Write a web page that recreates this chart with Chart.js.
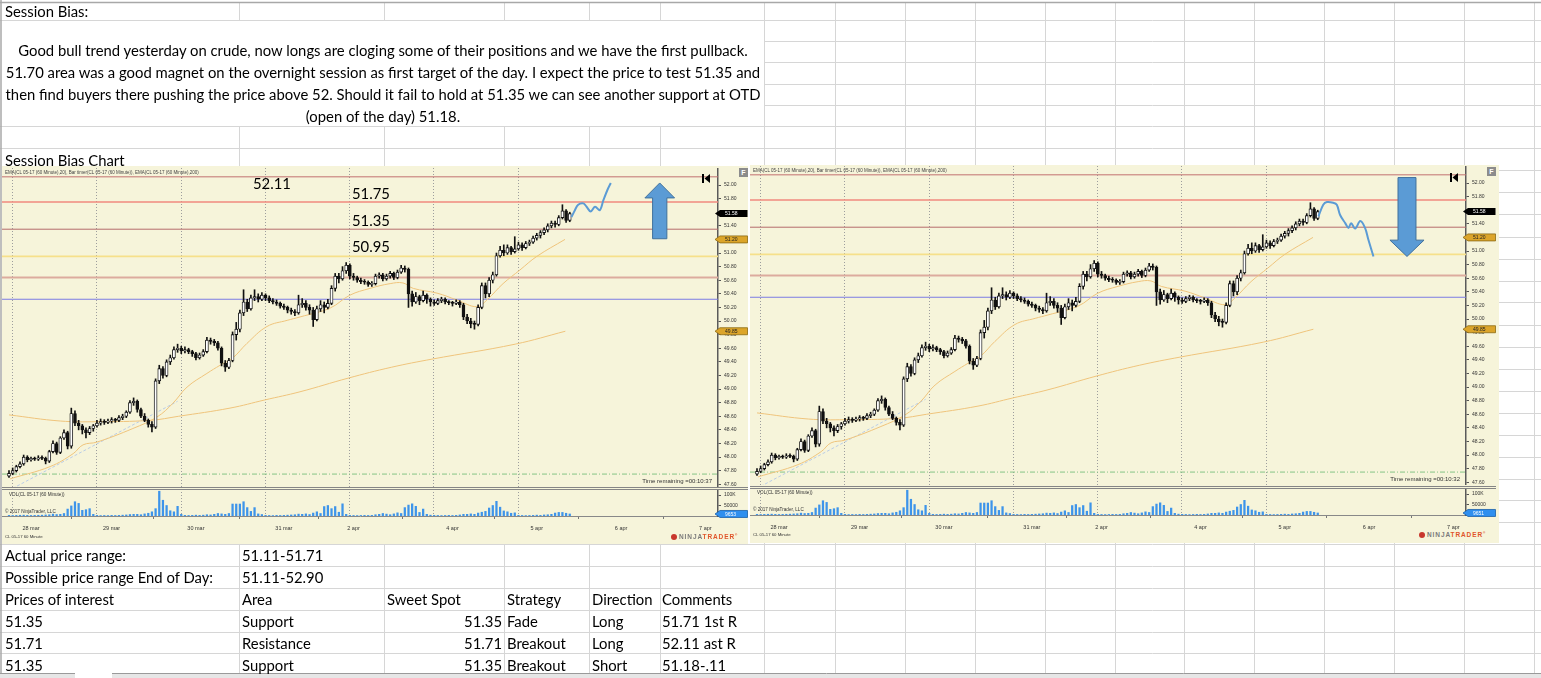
<!DOCTYPE html>
<html>
<head>
<meta charset="utf-8">
<title>Session Bias</title>
<script src="https://cdn.jsdelivr.net/npm/chart.js@4.4.1/dist/chart.umd.min.js"></script>
<style>
  body { margin:0; width:1541px; height:678px; overflow:hidden; position:relative; background:#fff; }
  canvas, div, svg { position:absolute; }
  .cell { white-space:nowrap; font-family:Lato, "Open Sans", sans-serif; color:#000; line-height:1; }
  .nt { white-space:nowrap; font-family:"Liberation Sans", Arial, sans-serif; color:#333; line-height:1; }
  .panel { background:#f6f4da; }
</style>
</head>
<body>
<canvas id="sheet" width="1541" height="678" style="left:0;top:0"></canvas>
<div class="panel" style="left:2px;top:166px;width:746px;height:378px"></div>
<div class="panel" style="left:750px;top:165px;width:749px;height:378px"></div>
<canvas id="priceL" width="746" height="319" style="left:2px;top:168px"></canvas>
<canvas id="volL" width="746" height="43" style="left:2px;top:489px"></canvas>
<canvas id="priceR" width="746" height="319" style="left:750px;top:166px"></canvas>
<canvas id="volR" width="746" height="43" style="left:750px;top:488px"></canvas>
<script>
// ---- CL 05-17, 60 minute bars ----
const opens = [
  47.72,47.76,47.80,47.86,47.90,48.00,47.96,47.98,47.97,47.99,47.98,47.94,48.08,48.20,48.07,48.28,48.36,48.16,48.64,48.50,48.46,48.40,48.36,48.42,
  48.46,48.50,48.52,48.51,48.53,48.55,48.54,48.58,48.60,48.66,48.80,48.82,48.70,48.60,48.54,48.48,48.44,49.12,49.30,49.20,49.40,49.46,49.58,
  49.60,49.56,49.58,49.55,49.52,49.46,49.50,49.55,49.72,49.70,49.68,49.60,49.38,49.32,49.42,49.80,49.88,50.12,50.28,50.18,50.34,50.36,50.32,
  50.38,50.34,50.30,50.28,50.26,50.22,50.20,50.16,50.14,50.12,50.24,50.26,50.20,50.16,50.02,50.18,50.24,50.20,50.26,50.48,50.66,50.62,50.74,
  50.82,50.66,50.64,50.60,50.58,50.57,50.54,50.55,50.66,50.68,50.62,50.66,50.70,50.64,50.72,50.78,50.76,50.40,50.28,50.36,50.30,50.38,50.32,
  50.28,50.26,50.30,50.32,50.28,50.27,50.26,50.28,50.24,50.06,50.00,49.96,49.95,50.20,50.52,50.40,50.60,50.68,50.96,51.04,51.00,51.08,51.02,
  51.06,51.12,51.08,51.14,51.16,51.22,51.26,51.30,51.34,51.40,51.44,51.42,51.52,51.62,51.48
];
const highs = [
  47.80,47.84,47.88,47.93,48.03,48.02,48.00,48.00,48.02,48.02,48.00,48.10,48.24,48.22,48.30,48.40,48.38,48.72,48.68,48.54,48.48,48.43,48.45,48.48,
  48.54,48.56,48.55,48.56,48.58,48.57,48.61,48.63,48.68,48.83,48.87,48.84,48.72,48.64,48.56,48.52,49.15,49.35,49.33,49.43,49.50,49.62,49.66,
  49.63,49.62,49.60,49.57,49.54,49.53,49.58,49.76,49.75,49.73,49.70,49.62,49.42,49.45,49.84,49.98,50.16,50.46,50.32,50.38,50.46,50.40,50.42,
  50.40,50.37,50.33,50.31,50.28,50.25,50.22,50.19,50.17,50.38,50.33,50.30,50.24,50.20,50.22,50.30,50.28,50.32,50.52,50.70,50.70,50.80,50.86,
  50.84,50.70,50.66,50.63,50.61,50.59,50.58,50.69,50.71,50.70,50.69,50.73,50.72,50.75,50.82,50.81,50.78,50.44,50.42,50.38,50.44,50.40,50.34,
  50.31,50.33,50.35,50.34,50.30,50.29,50.31,50.30,50.26,50.10,50.04,50.00,50.24,50.56,50.56,50.64,50.72,51.00,51.10,51.12,51.12,51.10,51.24,
  51.16,51.15,51.17,51.19,51.25,51.29,51.33,51.37,51.43,51.47,51.47,51.55,51.71,51.64,51.60
];
const lows = [
  47.70,47.74,47.78,47.84,47.88,47.93,47.94,47.95,47.95,47.96,47.90,47.92,48.06,48.04,48.05,48.26,48.12,48.13,48.46,48.40,48.34,48.28,48.33,48.38,
  48.44,48.47,48.48,48.49,48.50,48.51,48.52,48.55,48.58,48.64,48.76,48.66,48.58,48.52,48.44,48.37,48.42,49.08,49.16,49.18,49.36,49.44,49.54,
  49.52,49.53,49.52,49.48,49.43,49.44,49.48,49.53,49.66,49.64,49.57,49.34,49.26,49.30,49.40,49.72,49.84,50.08,50.14,50.16,50.30,50.28,50.30,
  50.30,50.27,50.25,50.23,50.19,50.17,50.12,50.10,50.08,50.10,50.20,50.16,50.10,49.92,50.00,50.14,50.12,50.18,50.24,50.44,50.56,50.60,50.70,
  50.62,50.60,50.57,50.55,50.54,50.51,50.51,50.53,50.63,50.59,50.60,50.63,50.61,50.62,50.70,50.72,50.20,50.22,50.26,50.24,50.28,50.26,50.22,
  50.23,50.24,50.27,50.25,50.24,50.22,50.24,50.20,50.02,49.96,49.90,49.88,49.93,50.18,50.34,50.36,50.56,50.66,50.94,50.96,50.98,50.98,51.00,
  51.04,51.04,51.06,51.11,51.14,51.19,51.22,51.27,51.31,51.37,51.38,51.40,51.50,51.45,51.46
];
const closes = [
  47.76,47.80,47.86,47.90,48.00,47.96,47.98,47.97,47.99,47.98,47.94,48.08,48.20,48.07,48.28,48.36,48.16,48.64,48.50,48.46,48.40,48.36,48.42,48.46,
  48.50,48.52,48.51,48.53,48.55,48.54,48.58,48.60,48.66,48.80,48.82,48.70,48.60,48.54,48.48,48.44,49.12,49.30,49.20,49.40,49.46,49.58,49.60,
  49.56,49.58,49.55,49.52,49.46,49.50,49.55,49.72,49.70,49.68,49.60,49.38,49.32,49.42,49.80,49.88,50.12,50.28,50.18,50.34,50.36,50.32,50.38,
  50.34,50.30,50.28,50.26,50.22,50.20,50.16,50.14,50.12,50.24,50.26,50.20,50.16,50.02,50.18,50.24,50.20,50.26,50.48,50.66,50.62,50.74,50.82,
  50.66,50.64,50.60,50.58,50.57,50.54,50.55,50.66,50.68,50.62,50.66,50.70,50.64,50.72,50.78,50.76,50.40,50.28,50.36,50.30,50.38,50.32,50.28,
  50.26,50.30,50.32,50.28,50.27,50.26,50.28,50.24,50.06,50.00,49.96,49.95,50.20,50.52,50.40,50.60,50.68,50.96,51.04,51.00,51.08,51.02,51.06,
  51.12,51.08,51.14,51.16,51.22,51.26,51.30,51.34,51.40,51.44,51.42,51.52,51.62,51.48,51.58
];
const volumes = [
  3000,2500,3000,3500,4000,3000,2500,3000,3500,4000,5000,6000,9000,7000,8000,12000,33000,48000,68000,60000,27000,30000,35000,8000,
  3000,2000,2500,2000,3000,2500,3000,4000,5000,7000,8000,8000,6000,10000,13000,20000,35000,118000,75000,50000,25000,20000,46000,
  8000,3000,2500,3000,4000,3000,4000,6000,5000,8000,12000,10000,8000,12000,57000,57000,57000,68000,40000,22000,40000,10000,7000,
  3000,2500,2000,3000,2500,3000,4000,5000,6000,9000,8000,10000,7000,14000,20000,12000,45000,50000,35000,45000,18000,58000,8000,
  3000,2500,2000,2500,3000,2500,3000,6000,8000,12000,9000,6000,10000,15000,12000,40000,52000,58000,46000,17000,33000,8000,4000,
  3000,2500,2000,2500,3000,2500,3000,5000,8000,8000,10000,8000,14000,18000,22000,38000,50000,70000,42000,24000,20000,13000,15000,
  3000,2500,2000,2500,3000,4000,3000,5000,6000,8000,14000,17000,17000,13000,9653
];
// indicator curves as [bar, price]
const ema20 = [[0.3,47.68],[11.2,47.86],[17.5,48.05],[20.2,48.18],[24,48.22],[33.8,48.42],[40.4,48.59],[44.7,48.79],[48.6,49.03],
  [54,49.23],[57.6,49.35],[61.1,49.46],[64.9,49.67],[70.4,49.92],[75.9,50.01],[79.4,50.06],[87.6,50.19],[93,50.38],[98.5,50.48],
  [104,50.55],[107.5,50.56],[110.3,50.48],[116.8,50.41],[122.2,50.31],[127.7,50.21],[130.4,50.31],[134.8,50.55],[139.4,50.75],
  [144,50.95],[151.7,51.20]];
const ema200 = [[0,48.62],[14,48.53],[24,48.52],[38.5,48.54],[46.3,48.60],[60.3,48.72],[69.8,48.84],[79.4,48.96],[92.5,49.16],
  [104.3,49.32],[115.4,49.44],[138.1,49.66],[151.8,49.85]];
const channel = [[1,47.54],[46,48.82]];
// hand drawn projections
const projUp = [[153.5,51.53],[154.4,51.63],[155.3,51.71],[156.7,51.73],[157.6,51.68],[158.7,51.61],[159.9,51.68],
  [161.2,51.63],[162.2,51.78],[163.3,51.93],[164.2,52.03]];
const projDown = [[153.2,51.51],[154.5,51.68],[155.5,51.72],[157.2,51.71],[158.2,51.68],[159.1,51.53],[160.5,51.41],
  [161.4,51.34],[162.1,51.41],[163.2,51.33],[164.6,51.44],[165.9,51.34],[166.8,51.17],[168.2,50.92]];
const arrowUp = {x0:173.5, x1:181.6, s0:175.6, s1:179.5, tail:51.21, base:51.81, tip:52.03};
const arrowDown = {x0:172.7, x1:182.0, s0:174.9, s1:179.8, tail:52.08, base:51.16, tip:50.92};

const levelPrices = [52.12, 51.75, 51.35, 50.95, 50.64, 50.32, 47.75];
const levelStyles = [
  {color:'#c27070', width:1},
  {color:'#f08a7e', width:1.6},
  {color:'#b66c6c', width:1},
  {color:'#f6e08a', width:1.8},
  {color:'#dcab9e', width:2},
  {color:'#7b7be3', width:1.2},
  {color:'#86c486', width:1, dash:[5,2,1,2]}
];
const priceTicks = [47.6,47.8,48.0,48.2,48.4,48.6,48.8,49.0,49.2,49.4,49.6,49.8,50.0,50.2,50.4,50.6,50.8,51.0,51.2,51.4,51.6,51.8,52.0];
const volTicks = [50000, 100000];
const sessionOpens = [1, 24, 47, 70, 93, 116, 139];
const dayTickIdx = [6, 28, 51, 75, 94, 121, 144, 167, 190];
const dayLabels = ['28 mar','29 mar','30 mar','31 mar','2 apr','4 apr','5 apr','6 apr','7 apr'];

// ---- sheet text ----
const bodyLines = [
  'Good bull trend yesterday on crude, now longs are cloging some of their positions and we have the first pullback.',
  '51.70 area was a good magnet on the overnight session as first target of the day. I expect the price to test 51.35 and',
  'then find buyers there pushing the price above 52. Should it fail to hold at 51.35 we can see another support at OTD',
  '(open of the day) 51.18.'
];
const rangeRows = [['Actual price range:', '51.11-51.71'], ['Possible price range End of Day:', '51.11-52.90']];
const interestHead = ['Prices of interest', 'Area', 'Sweet Spot', 'Strategy', 'Direction', 'Comments'];
const interestRows = [
  ['51.35', 'Support', '51.35', 'Fade', 'Long', '51.71 1st R'],
  ['51.71', 'Resistance', '51.71', 'Breakout', 'Long', '52.11 ast R'],
  ['51.35', 'Support', '51.35', 'Breakout', 'Short', '51.18-.11']
];
const chartNotes = ['52.11', '51.75', '51.35', '50.95'];

// ---- spreadsheet grid ----
const g = document.getElementById('sheet').getContext('2d');
const cols = [239, 384, 504, 589, 660, 764, 835, 905, 975, 1045, 1115, 1184, 1254, 1324, 1394, 1464, 1534];
const rowsLeft = [20, 126, 148, 544, 566, 588, 610, 632, 653];
const rowsRight = [20, 41, 62, 84, 105, 126, 148, 170, 192, 214, 237, 259, 281, 302, 325, 347, 369, 391, 413, 435,
  457, 479, 500, 522, 544, 566, 588, 610, 632, 653];
g.strokeStyle = '#d6d6d6'; g.lineWidth = 1;
function seg(x0, y0, x1, y1) { g.beginPath(); g.moveTo(x0, y0); g.lineTo(x1, y1); g.stroke(); }
cols.forEach(x => {
  if (x < 764) { seg(x + .5, 3, x + .5, 20); seg(x + .5, 126, x + .5, 673); }
  else seg(x + .5, 3, x + .5, 673);
});
rowsLeft.forEach(y => seg(0, y + .5, 764, y + .5));
rowsRight.forEach(y => seg(764, y + .5, 1541, y + .5));
g.strokeStyle = '#a8a8a8'; g.lineWidth = 1.5;
seg(0, 2.5, 1541, 2.5); seg(1, 0, 1, 673);
g.fillStyle = '#e6e6e6'; g.fillRect(0, 674, 75, 4); g.fillRect(112, 674, 1429, 4);
g.strokeStyle = '#9a9a9a'; g.lineWidth = 1; seg(0, 673.5, 75, 673.5); seg(112, 673.5, 1541, 673.5);

// ---- text helpers ----
const mc = document.createElement('canvas').getContext('2d');
mc.font = '100px Lato';
const FS = 100 * 732 / mc.measureText(bodyLines[0]).width;
function put(cls, text, x, cy, size, align, extra) {
  const d = document.createElement('div');
  d.className = cls; d.textContent = text;
  d.style.fontSize = size + 'px';
  d.style.top = (cy - size * (cls === 'cell' ? 0.5 : 0.52)) + 'px';
  if (align === 'center') { d.style.left = (x - 500) + 'px'; d.style.width = '1000px'; d.style.textAlign = 'center'; }
  else if (align === 'right') { d.style.left = (x - 300) + 'px'; d.style.width = '300px'; d.style.textAlign = 'right'; }
  else d.style.left = x + 'px';
  if (extra) Object.assign(d.style, extra);
  document.body.appendChild(d);
  return d;
}
put('cell', 'Session Bias:', 5, 11, FS);
bodyLines.forEach((t, k) => put('cell', t, 383, 50 + 22 * k, FS, 'center'));
put('cell', 'Session Bias Chart', 5, 160, FS);
const colX = [5, 242, 387, 507, 592, 662];
rangeRows.forEach((r, k) => { put('cell', r[0], colX[0], 555 + 22 * k, FS); put('cell', r[1], colX[1], 555 + 22 * k, FS); });
interestHead.forEach((t, c) => put('cell', t, colX[c], 599, FS));
interestRows.forEach((r, k) => r.forEach((t, c) => {
  if (c === 2) put('cell', t, 502, 621 + 22 * k, FS, 'right');
  else put('cell', t, colX[c], 621 + 22 * k, FS);
}));
// notes typed on the left chart
put('cell', chartNotes[0], 253, 183, FS);
put('cell', chartNotes[1], 352, 193, FS);
put('cell', chartNotes[2], 352, 220, FS);
put('cell', chartNotes[3], 352, 246, FS);

// NinjaTrader chrome for both panels
function chrome(ox, oy, timer) {
  put('nt', 'EMA(CL 05-17 (60 Minute),20), Bar timer(CL 05-17 (60 Minute)), EMA(CL 05-17 (60 Minute),200)', ox + 5, oy + 173, 4.5, null, {color:'#444'});
  put('nt', 'Time remaining =' + timer, ox + 712, oy + 481, 6, 'right');
  put('nt', 'VOL(CL 05-17 (60 Minute))', ox + 9, oy + 495, 4.6);
  put('nt', '\u00a9 2017 NinjaTrader, LLC', ox + 5, oy + 512, 4.6);
  put('nt', 'CL 05-17 60 Minute', ox + 5, oy + 537, 4.3);
  const logo = put('nt', '', ox + 679, oy + 537, 6.5, null, {letterSpacing:'0.9px', fontWeight:'bold'});
  logo.innerHTML = '<span style="color:#7a7a7a">NINJA</span><span style="color:#e0552a">TRADER</span><span style="font-size:3px;vertical-align:top;color:#e0552a">\u00ae</span>';
  const dot = document.createElement('div');
  Object.assign(dot.style, {left:(ox + 671) + 'px', top:(oy + 533.5) + 'px', width:'6px', height:'6px', borderRadius:'50%', background:'#c8372d'});
  document.body.appendChild(dot);
  // separator between price and volume panels
  [487, 489].forEach(y => {
    const l = document.createElement('div');
    Object.assign(l.style, {left:(ox + 2) + 'px', top:(oy + y) + 'px', width:'746px', height:'1px', background:'#858585'});
    document.body.appendChild(l);
  });
  const f = document.createElement('div');
  Object.assign(f.style, {left:(ox + 739) + 'px', top:(oy + 168) + 'px', width:'9px', height:'9px', background:'#8c8c8c',
    color:'#fff', font:'bold 7px "Liberation Sans", Arial', textAlign:'center', lineHeight:'9px'});
  f.textContent = 'F';
  document.body.appendChild(f);
  const ic = document.createElementNS('http://www.w3.org/2000/svg', 'svg');
  ic.setAttribute('width', '9'); ic.setAttribute('height', '9');
  ic.style.left = (ox + 702) + 'px'; ic.style.top = (oy + 174) + 'px';
  ic.innerHTML = '<rect x="0" y="0" width="2" height="9" fill="#000"/><polygon points="8,0 2.5,4.5 8,9" fill="#000"/>';
  document.body.appendChild(ic);
}
chrome(0, 0, '00:10:37');
chrome(748, -1.5, '00:10:32');

// ---- Chart.js ----
Chart.defaults.font.family = '"Liberation Sans", Arial, sans-serif';
Chart.defaults.color = '#333';
const X_MIN = -1.91, X_MAX = 193.45;
const P_MIN = 47.56, P_MAX = 52.25;
const V_MAX = 128600;
const barIdx = closes.map((c, i) => i);
const pts = a => a.map(([x, y]) => ({x, y}));

const sessionGrid = {
  id: 'sessionGrid',
  beforeDatasetsDraw(chart) {
    const {ctx, chartArea: a, scales: {x}} = chart;
    ctx.save();
    ctx.strokeStyle = '#9d9d9d'; ctx.lineWidth = 1; ctx.setLineDash([1, 2]);
    sessionOpens.forEach(i => {
      const px = Math.round(x.getPixelForValue(i - 0.2)) + 0.5;
      ctx.beginPath(); ctx.moveTo(px, a.top); ctx.lineTo(px, a.bottom); ctx.stroke();
    });
    ctx.restore();
  }
};
const levelLines = {
  id: 'levelLines',
  beforeDatasetsDraw(chart) {
    const {ctx, chartArea: a, scales: {y}} = chart;
    ctx.save();
    levelPrices.forEach((p, k) => {
      const st = levelStyles[k];
      const py = y.getPixelForValue(p);
      ctx.strokeStyle = st.color; ctx.lineWidth = st.width; ctx.setLineDash(st.dash || []);
      ctx.beginPath(); ctx.moveTo(a.left, py); ctx.lineTo(a.right, py); ctx.stroke();
    });
    ctx.restore();
  }
};
function arrowPlugin(ar) {
  return { id: 'arrow', afterDatasetsDraw(chart) {
    const {ctx, scales: {x, y}} = chart;
    const X0 = x.getPixelForValue(ar.x0), X1 = x.getPixelForValue(ar.x1);
    const S0 = x.getPixelForValue(ar.s0), S1 = x.getPixelForValue(ar.s1);
    const T = y.getPixelForValue(ar.tail), B = y.getPixelForValue(ar.base), P = y.getPixelForValue(ar.tip);
    ctx.save();
    ctx.beginPath();
    ctx.moveTo(S0, T); ctx.lineTo(S0, B); ctx.lineTo(X0, B); ctx.lineTo((X0 + X1) / 2, P);
    ctx.lineTo(X1, B); ctx.lineTo(S1, B); ctx.lineTo(S1, T); ctx.closePath();
    ctx.fillStyle = '#5b9bd5'; ctx.fill();
    ctx.strokeStyle = '#41719c'; ctx.lineWidth = 1; ctx.stroke();
    ctx.restore();
  }};
}
function tagPlugin(tags) {
  return { id: 'tags', afterDraw(chart) {
    const {ctx, chartArea: a, scales: {y}} = chart;
    ctx.save();
    ctx.font = '5px "Liberation Sans", Arial, sans-serif';
    ctx.textBaseline = 'middle';
    tags.forEach(t => {
      const py = y.getPixelForValue(t.v);
      const x0 = a.right - 3, x1 = a.right + 2, x2 = chart.width - 0.5;
      ctx.beginPath();
      ctx.moveTo(x0, py); ctx.lineTo(x1, py - 3.5); ctx.lineTo(x2, py - 3.5); ctx.lineTo(x2, py + 3.5); ctx.lineTo(x1, py + 3.5);
      ctx.closePath();
      ctx.fillStyle = t.bg; ctx.fill();
      if (t.edge) { ctx.strokeStyle = t.edge; ctx.lineWidth = 0.8; ctx.stroke(); }
      ctx.fillStyle = t.fg; ctx.fillText(t.text, a.right + 7, py + 0.3);
    });
    ctx.restore();
  }};
}
const base = {
  responsive: false, animation: false, events: [], layout: {padding: 0},
  plugins: {legend: {display: false}, tooltip: {enabled: false}}
};
function priceChart(id, proj, arrow) {
  const lastEma20 = ema20[ema20.length - 1][1], lastEma200 = ema200[ema200.length - 1][1];
  const lastClose = closes[closes.length - 1];
  return new Chart(document.getElementById(id), {
    type: 'bar',
    data: { datasets: [
      { type: 'line', data: pts(proj), borderColor: '#5b9bd5', borderWidth: 2, pointRadius: 0, tension: 0.35, order: 0 },
      { data: barIdx.map(i => ({x: i, y: [opens[i], closes[i]]})),
        backgroundColor: c => closes[c.dataIndex] >= opens[c.dataIndex] ? '#ffffff' : '#111111',
        borderColor: '#111', borderWidth: 0.9, borderSkipped: false, barThickness: 3, minBarLength: 1, grouped: false, order: 1 },
      { data: barIdx.map(i => ({x: i, y: [lows[i], highs[i]]})), backgroundColor: '#111', barThickness: 1, grouped: false, order: 2 },
      { type: 'line', data: pts(ema20), borderColor: '#efc47c', borderWidth: 1, pointRadius: 0, tension: 0.4, order: 3 },
      { type: 'line', data: pts(ema200), borderColor: '#efc47c', borderWidth: 1, pointRadius: 0, tension: 0.4, order: 4 },
      { type: 'line', data: pts(channel), borderColor: '#b9cce6', borderWidth: 1, borderDash: [3, 2], pointRadius: 0, order: 5 }
    ]},
    options: Object.assign({}, base, {
      scales: {
        x: { type: 'linear', min: X_MIN, max: X_MAX, offset: false, display: false },
        y: { position: 'right', min: P_MIN, max: P_MAX,
             afterBuildTicks: s => { s.ticks = priceTicks.map(v => ({value: v})); },
             afterFit: s => { s.width = 30; s.paddingTop = 0; s.paddingBottom = 0; },
             ticks: { padding: 3, font: {size: 5}, color: '#333', callback: v => v.toFixed(2) },
             grid: { drawOnChartArea: false, tickLength: 3, color: '#555' },
             border: { color: '#5a5a5a', width: 1.5 } }
      }
    }),
    plugins: [sessionGrid, levelLines, arrowPlugin(arrow), tagPlugin([
      {v: lastClose, text: lastClose.toFixed(2), bg: '#000', fg: '#fff'},
      {v: lastEma20, text: lastEma20.toFixed(2), bg: '#dca52b', fg: '#222', edge: '#8c6a14'},
      {v: lastEma200, text: lastEma200.toFixed(2), bg: '#dca52b', fg: '#222', edge: '#8c6a14'}
    ])]
  });
}
function volumeChart(id, tagText) {
  return new Chart(document.getElementById(id), {
    type: 'bar',
    data: { datasets: [{ data: barIdx.map(i => ({x: i, y: volumes[i]})), backgroundColor: '#3d94ea', barThickness: 1.6 }] },
    options: Object.assign({}, base, {
      scales: {
        x: { type: 'linear', min: X_MIN, max: X_MAX, offset: false,
             afterBuildTicks: s => { s.ticks = dayTickIdx.map(v => ({value: v})); },
             afterFit: s => { s.height = 16; s.paddingLeft = 0; s.paddingRight = 0; },
             ticks: { autoSkip: false, maxRotation: 0, padding: 6, font: {size: 5.5}, color: '#333', callback: (v, k) => dayLabels[k] },
             grid: { drawOnChartArea: false, tickLength: 3, color: '#777' },
             border: { color: '#888' } },
        y: { position: 'right', min: 0, max: V_MAX,
             afterBuildTicks: s => { s.ticks = volTicks.map(v => ({value: v})); },
             afterFit: s => { s.width = 30; s.paddingTop = 0; s.paddingBottom = 0; },
             ticks: { padding: 3, font: {size: 5}, color: '#333', callback: v => v >= 100000 ? (v / 1000) + 'K' : String(v) },
             grid: { drawOnChartArea: false, tickLength: 3, color: '#555' },
             border: { color: '#5a5a5a', width: 1.5 } }
      }
    }),
    plugins: [sessionGrid, tagPlugin([{v: volumes[volumes.length - 1], text: tagText, bg: '#2f8fef', fg: '#fff', edge: '#1b5fa8'}])]
  });
}
priceChart('priceL', projUp, arrowUp);
volumeChart('volL', String(volumes[volumes.length - 1]));
priceChart('priceR', projDown, arrowDown);
volumeChart('volR', '9651');
</script>
</body>
</html>
